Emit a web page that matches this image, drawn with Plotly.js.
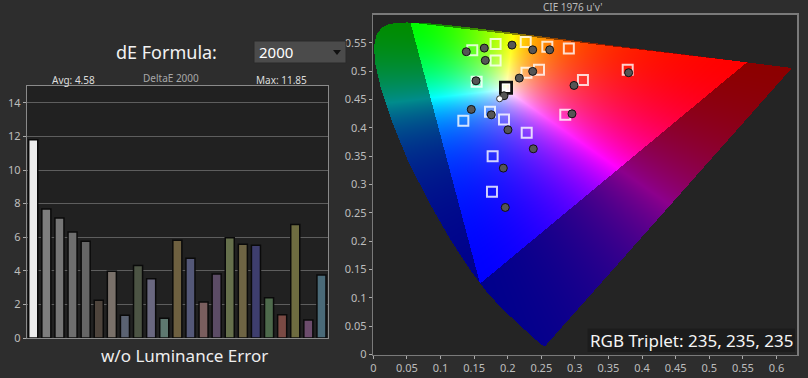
<!DOCTYPE html>
<html>
<head>
<meta charset="utf-8">
<script src="https://cdn.plot.ly/plotly-3.0.1.min.js"></script>
<style>html,body{margin:0;padding:0;background:#2d2d2d;}#chart{width:808px;height:378px;}</style>
</head>
<body>
<div id="chart"></div>
<script>
// ---- Left chart data: DeltaE 2000 per patch ----
const patchIndex = [0,1,2,3,4,5,6,7,8,9,10,11,12,13,14,15,16,17,18,19,20,21,22];
const deltaE = [11.8,7.68,7.15,6.31,5.76,2.24,3.97,1.35,4.31,3.53,1.17,5.82,4.75,2.14,3.81,5.96,5.58,5.52,2.40,1.39,6.75,1.07,3.75];
const barColors = ['#ececec','#7e7e7e','#767676','#6e6e6e','#666666','#4e443c','#7a716a','#5a6272','#4c5444','#6a6880','#5e7870','#6e6040','#545878','#7a5e5e','#5c4c66','#66704c','#6e6444','#3e3e6e','#4e6a4c','#7a4a44','#6e6c40','#6c4c6c','#4a6a78'];
const leftTicks = [0,2,4,6,8,10,12,14];

// ---- Right chart data: CIE 1976 u'v' ----
const targetU = [0.1473,0.182,0.2268,0.259,0.291,0.182,0.228,0.2466,0.3786,0.312,0.1538,0.1737,0.1945,0.134,0.2857,0.2283,0.1776,0.1766];
const targetV = [0.537,0.548,0.5513,0.543,0.540,0.519,0.497,0.5025,0.5025,0.4842,0.4814,0.4284,0.4148,0.4125,0.4231,0.3913,0.350,0.2872];
const whiteTargetU = [0.1975];
const whiteTargetV = [0.4707];
const measU = [0.1384,0.1652,0.2064,0.2372,0.2625,0.1667,0.2372,0.2173,0.380,0.2987,0.1528,0.1945,0.1458,0.1756,0.2004,0.2957,0.2381,0.1935,0.1964];
const measV = [0.5343,0.5407,0.546,0.5377,0.5377,0.519,0.4996,0.4878,0.4973,0.4748,0.4830,0.4566,0.4325,0.423,0.3965,0.4247,0.363,0.3289,0.2595];
const whiteMeasU = [0.188];
const whiteMeasV = [0.4513];
const xTicks = [0,0.05,0.1,0.15,0.2,0.25,0.3,0.35,0.4,0.45,0.5,0.55,0.6];
const yTicks = [0,0.05,0.1,0.15,0.2,0.25,0.3,0.35,0.4,0.45,0.5,0.55];
// spectral locus (380..700 nm) in u'v'
const locusU = [0.2568,0.2557,0.2522,0.2461,0.2347,0.2161,0.1877,0.1690,0.1441,0.1147,0.0828,0.0521,0.0282,0.0119,0.0035,0.0014,0.0046,0.0123,0.0231,0.0360,0.0501,0.0643,0.0792,0.0953,0.1127,0.1319,0.1531,0.2026,0.2623,0.3315,0.4035,0.4692,0.5203,0.5565,0.5830,0.6005,0.6234];
const locusV = [0.0166,0.0159,0.0169,0.0226,0.0350,0.0549,0.0871,0.1119,0.1510,0.2044,0.2708,0.3427,0.4117,0.4698,0.5131,0.5432,0.5638,0.5770,0.5837,0.5861,0.5868,0.5865,0.5856,0.5841,0.5821,0.5796,0.5766,0.5694,0.5604,0.5501,0.5393,0.5296,0.5219,0.5165,0.5125,0.5099,0.5065];

// ---- colour rendering of the chromaticity diagram ----
function inLocus(u, v) {
  let inside = false;
  const n = locusU.length;
  for (let i = 0, j = n - 1; i < n; j = i++) {
    const ui = locusU[i], vi = locusV[i], uj = locusU[j], vj = locusV[j];
    if ((vi > v) !== (vj > v) && u < (uj - ui) * (v - vi) / (vj - vi) + ui) inside = !inside;
  }
  return inside;
}
function uvColor(u, v) {
  const d = 6*u - 16*v + 12;
  const x = 9*u/d, y = 4*v/d;
  const X = x/y, Y = 1, Z = (1-x-y)/y;
  let r = 1.7166512*X - 0.3556708*Y - 0.2533663*Z;
  let g = -0.6666844*X + 1.6164812*Y + 0.0157685*Z;
  let b = 0.0176399*X - 0.0427706*Y + 0.9421031*Z;
  const inGamut = r >= 0 && g >= 0 && b >= 0;
  r = Math.max(r,0); g = Math.max(g,0); b = Math.max(b,0);
  const m = Math.max(r,g,b) || 1;
  const k = inGamut ? 255 : 140;
  const gm = 1.45;
  return [k*Math.pow(r/m,gm), k*Math.pow(g/m,gm), k*Math.pow(b/m,gm), 1];
}
const U_MAX = 0.631, V_MAX = 0.6;
const NX = 424, NY = 340;
const DX = U_MAX / NX, DY = V_MAX / NY;
const img = [];
for (let i = 0; i < NY; i++) {
  const v = (i + 0.5) * DY;
  const row = [];
  for (let j = 0; j < NX; j++) {
    const u = (j + 0.5) * DX;
    row.push(inLocus(u, v) ? uvColor(u, v) : [0,0,0,0]);
  }
  img.push(row);
}

const W = 808, H = 378;
const px = x => x / W, py = y => 1 - y / H;
const FONT = '"Noto Sans", "Open Sans", sans-serif';

const traces = [
  {type:'bar', x: patchIndex, y: deltaE, xaxis:'x', yaxis:'y',
   marker:{color: barColors, line:{color:'#0a0a0a', width:1.5}}, hoverinfo:'skip'},
  {type:'image', z: img, colormodel:'rgba', x0: DX/2, dx: DX, y0: DY/2, dy: DY,
   xaxis:'x2', yaxis:'y2', hoverinfo:'skip'},
  {type:'scatter', mode:'markers', x: targetU, y: targetV, xaxis:'x2', yaxis:'y2',
   marker:{symbol:'square-open', size:10, color:'rgba(255,255,255,0.8)', line:{width:2}}, hoverinfo:'skip'},
  {type:'scatter', mode:'markers', x: whiteTargetU, y: whiteTargetV, xaxis:'x2', yaxis:'y2',
   marker:{symbol:'square-open', size:11, color:'#111111', line:{width:3}}, hoverinfo:'skip'},
  {type:'scatter', mode:'markers', x: whiteTargetU, y: whiteTargetV, xaxis:'x2', yaxis:'y2',
   marker:{symbol:'square-open', size:7, color:'#ffffff', line:{width:1.5}}, hoverinfo:'skip'},
  {type:'scatter', mode:'markers', x: measU, y: measV, xaxis:'x2', yaxis:'y2',
   marker:{symbol:'circle', size:8, color:'#555555', line:{color:'#111111', width:1}}, hoverinfo:'skip'},
  {type:'scatter', mode:'markers', x: whiteMeasU, y: whiteMeasV, xaxis:'x2', yaxis:'y2',
   marker:{symbol:'circle', size:6, color:'#ffffff', line:{color:'#333333', width:1}}, hoverinfo:'skip'}
];

const ann = (text, x, y, size, color, xanchor) => ({
  text, x: px(x), y: py(y), xref:'paper', yref:'paper', showarrow:false,
  xanchor: xanchor || 'center', yanchor:'middle', font:{family:FONT, size, color}
});

const layout = {
  width: W, height: H, margin:{l:0,r:0,t:0,b:0},
  paper_bgcolor:'#2d2d2d', showlegend:false, bargap:0.31,
  xaxis:{domain:[px(26.7), px(328)], range:[-0.5,22.5], showticklabels:false, ticks:'',
         showgrid:false, zeroline:false, showline:true, mirror:true, linecolor:'#8a8a8a', linewidth:1,
         fixedrange:true},
  yaxis:{domain:[py(338), py(86)], range:[0,15], tickvals:leftTicks, ticks:'outside', ticklen:3,
         tickcolor:'#aaaaaa', showgrid:true, gridcolor:'#5e5e5e', gridwidth:1, zeroline:false,
         showline:true, mirror:true, linecolor:'#8a8a8a', linewidth:1,
         tickfont:{family:FONT, size:11, color:'#bdbdbd'}, fixedrange:true},
  xaxis2:{domain:[px(373.3), px(797.3)], range:[0,U_MAX], autorange:false, tickvals:xTicks, ticktext:xTicks.map(String),
          ticks:'outside', ticklen:3, tickcolor:'#aaaaaa', showgrid:false, zeroline:false,
          showline:true, mirror:true, linecolor:'#7a7a7a', linewidth:1.5, anchor:'y2',
          scaleanchor:false,
          tickfont:{family:FONT, size:11, color:'#bdbdbd'}, fixedrange:true},
  yaxis2:{domain:[py(354.5), py(14.5)], range:[0,V_MAX], autorange:false, tickvals:yTicks, ticktext:yTicks.map(String),
          ticks:'outside', ticklen:3, tickcolor:'#aaaaaa', showgrid:false, zeroline:false,
          showline:true, mirror:true, linecolor:'#7a7a7a', linewidth:1.5, anchor:'x2',
          scaleanchor:false,
          tickfont:{family:FONT, size:11, color:'#bdbdbd'}, fixedrange:true},
  plot_bgcolor:'#212121',
  shapes:[
    {type:'rect', xref:'paper', yref:'paper', x0:px(373.3), x1:px(797.3), y0:py(354.5), y1:py(14.5),
     fillcolor:'#242424', line:{width:0}, layer:'below'},
    {type:'rect', xref:'paper', yref:'paper', x0:px(254), x1:px(346), y0:py(63), y1:py(41),
     fillcolor:'#4b4b4b', line:{color:'#2a2a2a', width:1}},
    {type:'path', xref:'paper', yref:'paper',
     path:`M ${px(333)} ${py(50)} L ${px(341)} ${py(50)} L ${px(337)} ${py(55)} Z`,
     fillcolor:'#111111', line:{width:0}},
    {type:'rect', xref:'paper', yref:'paper', x0:px(587.5), x1:px(795), y0:py(352), y1:py(328.5),
     fillcolor:'#1c1c1c', line:{width:0}, layer:'above'}
  ],
  annotations:[
    ann('dE Formula:', 166, 52, 18, '#f2f2f2'),
    ann('2000', 257, 52, 15, '#ffffff', 'left'),
    ann('Avg: 4.58', 73, 80, 10, '#dddddd'),
    ann('DeltaE 2000', 171, 78, 10, '#a8a8a8'),
    ann('Max: 11.85', 281, 80, 10, '#dddddd'),
    ann('w/o Luminance Error', 184, 355, 17, '#eeeeee'),
    ann("CIE 1976 u'v'", 573, 7, 10, '#bbbbbb'),
    ann('RGB Triplet: 235, 235, 235', 588, 340, 17, '#f5f5f5', 'left')
  ]
};

Plotly.newPlot('chart', traces, layout, {staticPlot:true, displayModeBar:false});
</script>
</body>
</html>
